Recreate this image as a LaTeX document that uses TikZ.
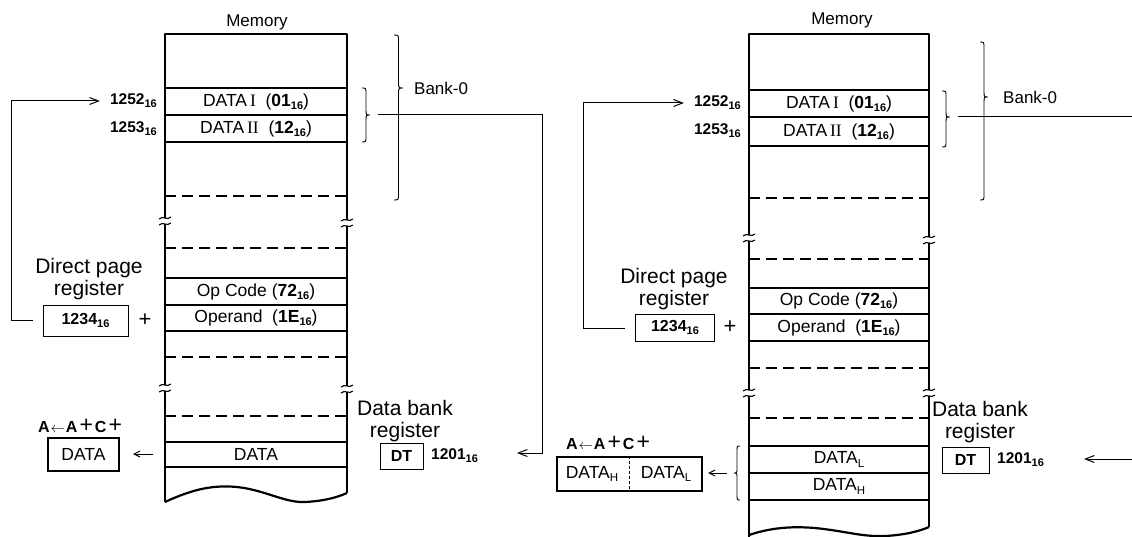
\documentclass[tikz,border=0pt]{standalone}
\usepackage{fontspec}
\setmainfont{Liberation Sans}
\newfontfamily\romfont{Liberation Serif}
\usetikzlibrary{arrows.meta}

\newcommand\hsub[1]{\raisebox{-0.35ex}{\fontsize{11}{11}\selectfont\bfseries #1}}
\newcommand\lsub[1]{\raisebox{-0.35ex}{\fontsize{11.5}{11.5}\selectfont #1}}
\newcommand\cellfont{\fontsize{17.5}{18}\selectfont}
\newcommand\bigfont{\fontsize{21}{22}\selectfont}
\newcommand\accum{\textbf{A}\kern1pt{\fontsize{14}{14}\selectfont$\leftarrow$}\kern1pt\textbf{A}{\fontsize{23}{23}\selectfont\kern2pt+\kern2pt}\textbf{C}{\fontsize{23}{23}\selectfont\kern2pt+}}

% right-pointing (w>0) or left-pointing (w<0) brace: x0, y1, y2, ytip, w
\newcommand\mybrace[5]{%
  \draw[bracel] (#1,#2) .. controls ({#1+#5/2},#2) and ({#1+#5/2},#2) .. ({#1+#5/2},{#2+6})
    -- ({#1+#5/2},{#4-6}) .. controls ({#1+#5/2},#4) and ({#1+#5/2},#4) .. ({#1+#5},#4)
    .. controls ({#1+#5/2},#4) and ({#1+#5/2},#4) .. ({#1+#5/2},{#4+6})
    -- ({#1+#5/2},{#3-6}) .. controls ({#1+#5/2},#3) and ({#1+#5/2},#3) .. (#1,#3);}
% break mark on a vertical edge at x, y
\newcommand\brk[2]{%
  \fill[white] ({#1-3},{#2-3}) rectangle ({#1+3},{#2+3});
  \draw[line width=1.1pt] ({#1-6},{#2-2}) .. controls ({#1-2},{#2-6}) and ({#1+2},{#2}) .. ({#1+6},{#2-4});
  \draw[line width=1.1pt] ({#1-6},{#2+4}) .. controls ({#1-2},{#2}) and ({#1+2},{#2+6}) .. ({#1+6},{#2+2});}

\tikzset{
  memedge/.style={line width=2.2pt, line join=round},
  cellline/.style={line width=1.1pt},
  dashline/.style={line width=1.1pt, dash pattern=on 11pt off 6pt},
  celltext/.style={font=\cellfont, inner sep=0pt},
  addr/.style={font=\fontsize{15.5}{17}\selectfont\bfseries, inner sep=0pt, anchor=east},
  bigtext/.style={font=\bigfont, align=center, inner sep=0pt},
  titletext/.style={font=\fontsize{17}{18}\selectfont, inner sep=0pt},
  regbox/.style={draw, line width=0.9pt, inner sep=0pt, font=\fontsize{16}{17}\selectfont\bfseries},
  resbox/.style={draw, line width=2.4pt, inner sep=0pt, font=\cellfont},
  conn/.style={line width=1pt},
  barb/.style={-{Straight Barb[length=9pt,width=7pt]}},
  smallbarb/.style={-{Straight Barb[length=6pt,width=6pt]}},
  bracel/.style={line width=0.9pt},
  plain/.style={inner sep=0pt},
}

\begin{document}
\begin{tikzpicture}[x=1pt,y=-1pt]
\useasboundingbox[fill=white] (0,0) rectangle (1132,537);

% ================= LEFT DIAGRAM =================
\foreach \y in {88,115,142,278,305,331,442,467} \draw[cellline] (165,\y) -- (347,\y);
\foreach \y in {196,248,357,416} \draw[dashline] (165,\y) -- (347,\y);
\draw[memedge] (165,502) -- (165,34) -- (347,34) -- (347,493);
\draw[memedge] (165,502) .. controls (195,488) and (215,485) .. (237,487)
  .. controls (265,490) and (285,503) .. (305,502) .. controls (325,501) and (338,497) .. (347,493);
\brk{165}{221}\brk{347}{223}\brk{165}{388}\brk{347}{389}

\node[titletext] (memL) at (257,22) {Memory};
\node[celltext] (d1L) at (256,101.5) {DATA\,{\romfont I}\ \ (\textbf{01}\hsub{16})};
\node[celltext] (d2L) at (256,128.5) {DATA\,{\romfont II}\ \ (\textbf{12}\hsub{16})};
\node[celltext] (opL) at (256,291.5) {Op Code (\textbf{72}\hsub{16})};
\node[celltext] (oprL) at (256,318) {Operand\ \ (\textbf{1E}\hsub{16})};
\node[celltext] (dataL) at (256,454.5) {DATA};

\node[addr] (a1L) at (157,101) {1252\hsub{16}};
\node[addr] (a2L) at (157,129) {1253\hsub{16}};

\node[bigtext] (dpL) at (89,279) {Direct page\\register};
\node[regbox, minimum width=85pt, minimum height=31pt] (dprL) at (85.5,320.5) {1234\hsub{16}};
\node[plain, font=\fontsize{22}{22}\selectfont] (plL) at (145,320) {+};

\node[bigtext] (dbL) at (405,421) {Data bank\\register};
\node[regbox, minimum width=43pt, minimum height=26pt] (dtL) at (401.5,456) {DT};
\node[plain, font=\fontsize{15.5}{17}\selectfont\bfseries, anchor=west] (vL) at (431,456) {1201\hsub{16}};

\node[plain, font=\fontsize{16}{17}\selectfont] (accL) at (80,426) {\accum};
\node[resbox, minimum width=71pt, minimum height=33pt] (resL) at (83.5,454.5) {DATA};

\node[titletext, anchor=west] (bankL) at (414,88) {Bank-0};
\mybrace{394}{35}{200}{88}{9}
\mybrace{362}{88}{142}{115}{8}

\coordinate (sbL) at (378,115);
\coordinate (turnL) at (542,453);
\coordinate (endL) at (517,453);
\draw[conn, barb] (sbL) -| (turnL) -- (endL);

\coordinate (dpsL) at (33,320);
\coordinate (upL) at (11,101);
\draw[conn, barb] (dpsL) -- (upL |- dpsL) -- (upL) -- ([xshift=-10pt]a1L.west);

\coordinate (fromL) at (153,454);
\coordinate (toL) at (133,454);
\draw[conn, smallbarb] (fromL) -- (toL);

% ================= RIGHT DIAGRAM =================
\foreach \y in {90,117,146,288,314,341,446,473,500} \draw[cellline] (749,\y) -- (929,\y);
\foreach \y in {198,259,368,418} \draw[dashline] (749,\y) -- (929,\y);
\draw[memedge] (749,537) -- (749,34) -- (929,34) -- (929,527);
\draw[memedge] (749,535) .. controls (770,528) and (790,526) .. (815,528)
  .. controls (845,531) and (862,537) .. (885,536) .. controls (905,535) and (920,531) .. (929,527);
\brk{749}{238}\brk{929}{240}\brk{749}{393}\brk{929}{393}

\node[titletext] (memR) at (842,20) {Memory};
\node[celltext] (d1R) at (839,103.5) {DATA\,{\romfont I}\ \ (\textbf{01}\hsub{16})};
\node[celltext] (d2R) at (839,131.5) {DATA\,{\romfont II}\ \ (\textbf{12}\hsub{16})};
\node[celltext] (opR) at (839,301) {Op Code (\textbf{72}\hsub{16})};
\node[celltext] (oprR) at (839,327.5) {Operand\ \ (\textbf{1E}\hsub{16})};
\node[celltext] (dlR) at (839,459.5) {DATA\lsub{L}};
\node[celltext] (dhR) at (839,486.5) {DATA\lsub{H}};

\node[addr] (a1R) at (741,103) {1252\hsub{16}};
\node[addr] (a2R) at (741,131) {1253\hsub{16}};

\node[bigtext] (dpR) at (674,289) {Direct page\\register};
\node[regbox, minimum width=79pt, minimum height=27pt] (dprR) at (675,327.5) {1234\hsub{16}};
\node[plain, font=\fontsize{22}{22}\selectfont] (plR) at (730,327) {+};

\node[bigtext] (dbR) at (980,422) {Data bank\\register};
\node[regbox, minimum width=47pt, minimum height=26pt] (dtR) at (965.5,460) {DT};
\node[plain, font=\fontsize{15.5}{17}\selectfont\bfseries, anchor=west] (vR) at (997,460) {1201\hsub{16}};

\node[plain, font=\fontsize{16}{17}\selectfont] (accR) at (608,443) {\accum};
\node[resbox, minimum width=145pt, minimum height=34pt] (resR) at (629.5,474) {};
\draw[line width=0.7pt, dash pattern=on 3pt off 2pt] (resR.north) -- (resR.south);
\node[celltext] (rhR) at (592,474) {DATA\lsub{H}};
\node[celltext] (rlR) at (666,474) {DATA\lsub{L}};

\node[titletext, anchor=west] (bankR) at (1003,97) {Bank-0};
\mybrace{980}{42}{200}{97}{8}
\mybrace{942}{91}{147}{117}{8}
\mybrace{740}{446}{500}{473}{-6}

\coordinate (sbR) at (958,117);
\coordinate (edgeR) at (1132,117);
\draw[conn] (sbR) -- (edgeR);

\coordinate (dpsR) at (625,328);
\coordinate (upR) at (583,103);
\draw[conn, barb] (dpsR) -- (upR |- dpsR) -- (upR) -- ([xshift=-10pt]a1R.west);

\coordinate (inR) at (1132,459);
\coordinate (tipR) at (1084,459);
\draw[conn, barb] (inR) -- (tipR);

\coordinate (fromR) at (727,473);
\coordinate (toR) at (708,473);
\draw[conn, smallbarb] (fromR) -- (toR);
\end{tikzpicture}
\end{document}
